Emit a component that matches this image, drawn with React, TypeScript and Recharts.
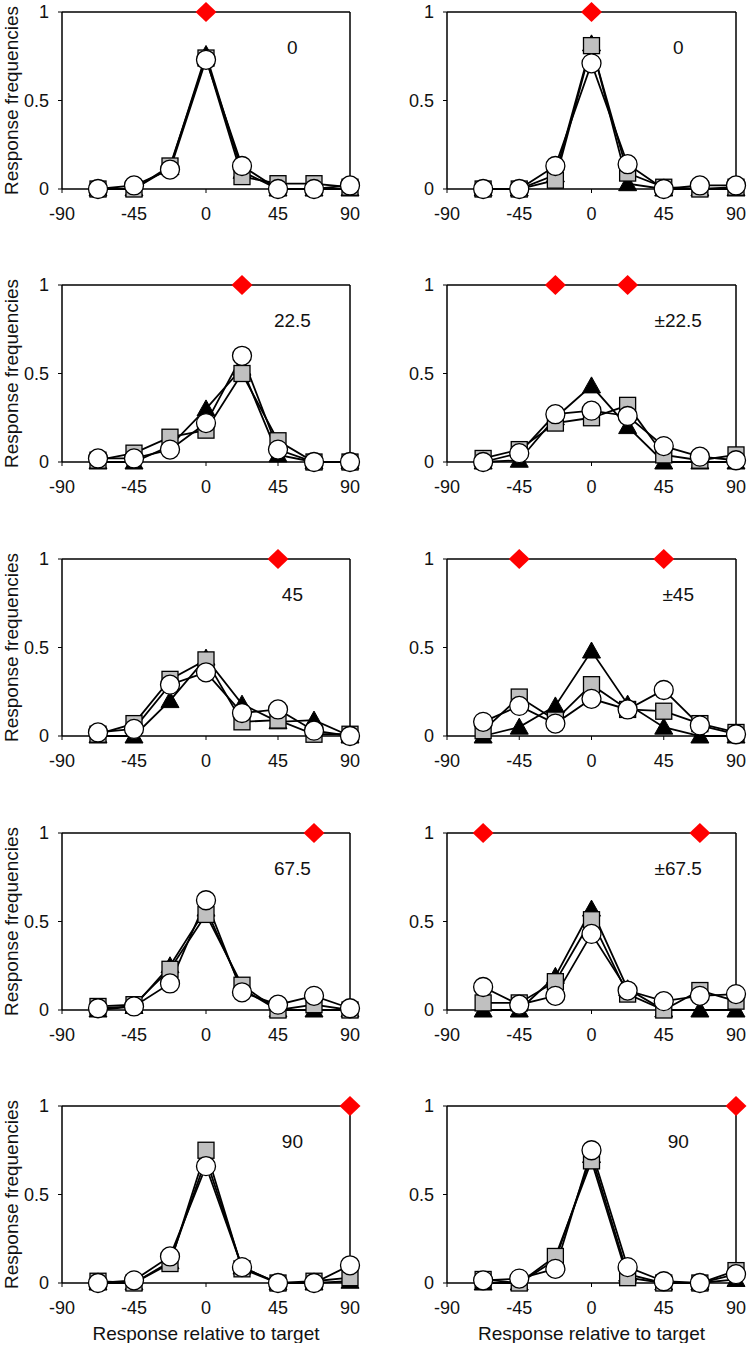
import React from "react";
import {
  ComposedChart,
  Line,
  Scatter,
  XAxis,
  YAxis,
  ReferenceLine,
  ReferenceDot,
} from "recharts";

// Response offsets (deg) at which frequencies were measured
const RESPONSE_X = [-67.5, -45, -22.5, 0, 22.5, 45, 67.5, 90];
const X_TICKS = [-90, -45, 0, 45, 90];
const Y_TICKS = [0, 0.5, 1];

// panels read left-to-right, top-to-bottom
const PANEL_LABELS = ["0", "0", "22.5", "±22.5", "45", "±45", "67.5", "±67.5", "90", "90"];
const TARGETS = [[0], [0], [22.5], [-22.5, 22.5], [45], [-45, 45], [67.5], [-67.5, 67.5], [90], [90]];

// black triangles
const TRIANGLE = [
  [0, 0, 0.12, 0.76, 0.1, 0, 0, 0],
  [0, 0, 0.08, 0.82, 0.03, 0, 0, 0],
  [0, 0, 0.09, 0.3, 0.53, 0.04, 0, 0],
  [0, 0.01, 0.25, 0.43, 0.2, 0, 0, 0],
  [0, 0, 0.2, 0.44, 0.18, 0.08, 0.09, 0],
  [0, 0.05, 0.17, 0.48, 0.18, 0.05, 0, 0],
  [0, 0.02, 0.25, 0.57, 0.12, 0, 0, 0],
  [0, 0, 0.19, 0.57, 0.12, 0, 0, 0],
  [0, 0, 0.12, 0.7, 0.09, 0, 0, 0.01],
  [0, 0, 0.13, 0.72, 0.05, 0, 0, 0.02],
];

// grey squares
const SQUARE = [
  [0, 0, 0.13, 0.74, 0.07, 0.03, 0.03, 0.01],
  [0, 0, 0.05, 0.81, 0.09, 0.01, 0, 0.01],
  [0.01, 0.05, 0.14, 0.18, 0.5, 0.12, 0, 0],
  [0.02, 0.07, 0.22, 0.25, 0.32, 0.04, 0.01, 0.04],
  [0.01, 0.07, 0.32, 0.43, 0.08, 0.09, 0.01, 0.01],
  [0.03, 0.22, 0.09, 0.29, 0.15, 0.14, 0.07, 0.02],
  [0.02, 0.03, 0.23, 0.54, 0.14, 0, 0.03, 0],
  [0.04, 0.04, 0.16, 0.51, 0.09, 0, 0.11, 0.05],
  [0.01, 0, 0.11, 0.75, 0.08, 0, 0.01, 0.03],
  [0.02, 0, 0.15, 0.69, 0.03, 0, 0, 0.07],
];

// white circles
const CIRCLE = [
  [0, 0.02, 0.11, 0.73, 0.13, 0, 0, 0.02],
  [0, 0, 0.13, 0.71, 0.14, 0, 0.02, 0.02],
  [0.02, 0.02, 0.07, 0.22, 0.6, 0.07, 0, 0],
  [0, 0.05, 0.27, 0.29, 0.26, 0.09, 0.03, 0.01],
  [0.02, 0.04, 0.29, 0.36, 0.13, 0.15, 0.03, 0],
  [0.08, 0.17, 0.07, 0.21, 0.15, 0.26, 0.06, 0.01],
  [0.01, 0.02, 0.15, 0.62, 0.1, 0.03, 0.08, 0.01],
  [0.13, 0.03, 0.08, 0.43, 0.11, 0.05, 0.08, 0.09],
  [0, 0.015, 0.15, 0.66, 0.09, 0, 0, 0.1],
  [0.015, 0.025, 0.08, 0.75, 0.09, 0.01, 0, 0.05],
];

const FONT = "'Liberation Sans', Arial, sans-serif";
const ROW_TOPS = [0, 273, 547, 821, 1094];

const triangleDot = (p: any) => {
  const { cx, cy, index } = p;
  if (cx == null || cy == null) return <g key={`t${index}`} />;
  return (
    <polygon
      key={`t${index}`}
      points={`${cx},${cy - 9} ${cx + 9},${cy + 7} ${cx - 9},${cy + 7}`}
      fill="#000"
      stroke="#000"
      strokeWidth={1}
    />
  );
};

const squareDot = (p: any) => {
  const { cx, cy, index } = p;
  if (cx == null || cy == null) return <g key={`s${index}`} />;
  return (
    <rect
      key={`s${index}`}
      x={cx - 8}
      y={cy - 8}
      width={16}
      height={16}
      fill="#c0c0c0"
      stroke="#000"
      strokeWidth={1.3}
    />
  );
};

const circleDot = (p: any) => {
  const { cx, cy, index } = p;
  if (cx == null || cy == null) return <g key={`c${index}`} />;
  return <circle key={`c${index}`} cx={cx} cy={cy} r={9.5} fill="#fff" stroke="#000" strokeWidth={1.3} />;
};

const diamond = (p: any) => {
  const { cx, cy } = p;
  return (
    <polygon
      points={`${cx},${cy - 10} ${cx + 10.5},${cy} ${cx},${cy + 10} ${cx - 10.5},${cy}`}
      fill="#ff0000"
    />
  );
};

function Panel({ idx }: { idx: number }) {
  const row = Math.floor(idx / 2);
  const col = idx % 2;
  const isLeft = col === 0;
  const isBottom = row === 4;
  const data = RESPONSE_X.map((x, i) => ({
    x,
    tri: TRIANGLE[idx][i],
    sq: SQUARE[idx][i],
    circ: CIRCLE[idx][i],
  }));
  const targets = TARGETS[idx].map((x) => ({ x, y: 1 }));
  const width = isLeft ? 375 : 374;
  const tick = { fontSize: 18, fill: "#111", fontFamily: FONT };
  const axisLine = { stroke: "#000", strokeWidth: 1.5 };

  return (
    <div style={{ position: "absolute", left: isLeft ? 0 : 375, top: ROW_TOPS[row] }}>
      <ComposedChart
        width={width}
        height={249}
        data={data}
        margin={{ top: 12, right: isLeft ? 25 : 13, bottom: 0, left: 0 }}
      >
        <XAxis
          dataKey="x"
          type="number"
          domain={[-90, 90]}
          ticks={X_TICKS}
          interval={0}
          tick={tick}
          tickSize={4}
          tickMargin={14}
          axisLine={axisLine}
          tickLine={{ stroke: "#000" }}
          height={60}
          label={
            isBottom
              ? {
                  content: ({ viewBox }: any) => (
                    <text
                      x={viewBox.x + viewBox.width / 2}
                      y={viewBox.y + 50}
                      textAnchor="middle"
                      dominantBaseline="central"
                      fontSize={19}
                      fill="#111"
                      fontFamily={FONT}
                    >
                      Response relative to target
                    </text>
                  ),
                }
              : undefined
          }
        />
        <YAxis
          type="number"
          domain={[0, 1]}
          ticks={Y_TICKS}
          interval={0}
          tick={tick}
          tickSize={4}
          tickMargin={9}
          axisLine={axisLine}
          tickLine={{ stroke: "#000" }}
          width={isLeft ? 62 : 72}
          label={
            isLeft
              ? {
                  content: ({ viewBox }: any) => {
                    const cy = viewBox.y + viewBox.height / 2;
                    return (
                      <text
                        x={11}
                        y={cy}
                        transform={`rotate(-90, 11, ${cy})`}
                        textAnchor="middle"
                        dominantBaseline="central"
                        fontSize={19}
                        fill="#111"
                        fontFamily={FONT}
                      >
                        Response frequencies
                      </text>
                    );
                  },
                }
              : undefined
          }
        />
        <ReferenceLine y={1} stroke="#000" strokeWidth={1.5} />
        <ReferenceLine x={90} stroke="#000" strokeWidth={1.5} />
        <ReferenceDot
          x={54}
          y={0.8}
          r={1}
          fill="none"
          stroke="none"
          label={{ value: PANEL_LABELS[idx], position: "center", fontSize: 19, fill: "#111", fontFamily: FONT }}
        />
        <Line dataKey="tri" stroke="#000" strokeWidth={1.8} dot={triangleDot} activeDot={false} isAnimationActive={false} />
        <Line dataKey="sq" stroke="#000" strokeWidth={1.8} dot={squareDot} activeDot={false} isAnimationActive={false} />
        <Line dataKey="circ" stroke="#000" strokeWidth={1.8} dot={circleDot} activeDot={false} isAnimationActive={false} />
        <Scatter data={targets} dataKey="y" shape={diamond} isAnimationActive={false} />
      </ComposedChart>
    </div>
  );
}

export default function App() {
  return (
    <div
      style={{
        position: "absolute",
        left: 0,
        top: 0,
        width: 749,
        height: 1345,
        background: "#fff",
        fontFamily: FONT,
      }}
    >
      {PANEL_LABELS.map((_, i) => (
        <Panel key={i} idx={i} />
      ))}
    </div>
  );
}
